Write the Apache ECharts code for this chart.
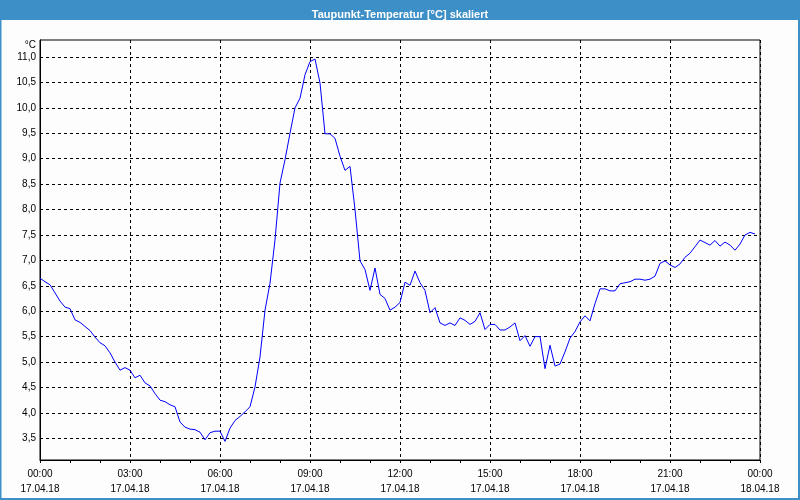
<!DOCTYPE html>
<html>
<head>
<meta charset="utf-8">
<script src="https://cdn.jsdelivr.net/npm/echarts@6/dist/echarts.min.js"></script>
<style>
html,body{margin:0;padding:0;background:#fcfdfc;}
#chart{width:800px;height:500px;}
</style>
</head>
<body>
<div id="chart"></div>
<script>
var titleText = 'Taupunkt-Temperatur [°C] skaliert';
var unitLabel = '°C';
var startHour = 0;
var stepMinutes = 10;
var xTickLabels = ['00:00\n17.04.18','03:00\n17.04.18','06:00\n17.04.18','09:00\n17.04.18','12:00\n17.04.18','15:00\n17.04.18','18:00\n17.04.18','21:00\n17.04.18','00:00\n18.04.18'];
var yTicks = [3.5,4.0,4.5,5.0,5.5,6.0,6.5,7.0,7.5,8.0,8.5,9.0,9.5,10.0,10.5,11.0];
var dewPoint = [
  6.65,6.58,6.52,6.36,6.20,6.08, 6.05,5.83,5.78,5.70,5.62,5.49,
  5.38,5.32,5.18,5.00,4.84,4.89, 4.84,4.69,4.74,4.59,4.53,4.38,
  4.25,4.22,4.16,4.12,3.82,3.72, 3.68,3.67,3.62,3.47,3.61,3.64,
  3.64,3.44,3.70,3.85,3.93,4.02, 4.12,4.51,5.10,6.02,6.55,7.40,
  8.52,8.98,9.50,10.00,10.19,10.65, 10.91,10.96,10.49,9.49,9.49,9.40,
  9.05,8.77,8.85,8.00,6.99,6.82, 6.41,6.85,6.33,6.25,6.02,6.08,
  6.17,6.57,6.51,6.79,6.56,6.41, 5.97,6.07,5.77,5.72,5.77,5.72,
  5.87,5.82,5.74,5.80,5.97,5.64, 5.74,5.74,5.63,5.63,5.69,5.77,
  5.42,5.52,5.31,5.50,5.50,4.87, 5.33,4.92,4.96,5.20,5.47,5.60,
  5.79,5.91,5.81,6.15,6.44,6.44, 6.40,6.40,6.54,6.56,6.58,6.63,
  6.63,6.61,6.63,6.69,6.94,6.99, 6.91,6.86,6.93,7.06,7.14,7.27,
  7.40,7.35,7.30,7.39,7.28,7.36, 7.30,7.20,7.32,7.50,7.55,7.52
];
var yMin = 3.073, yMax = 11.335;

var seriesData = dewPoint.map(function(v,i){ return [startHour + i*stepMinutes/60, v]; });

var chart = echarts.init(document.getElementById('chart'), null, {renderer:'canvas'});
var font = 'Liberation Sans';
var frameColor = '#3d8fc7';
chart.setOption({
  backgroundColor: '#fcfdfc',
  animation: false,
  textStyle: {fontFamily: font},
  title: {
    text: titleText, left: 'center', top: 4,
    textStyle: {color:'#ffffff', fontSize: 11, fontWeight: 'bold', fontFamily: font}
  },
  graphic: [
    {type:'rect', z:-10, shape:{x:0,y:0,width:800,height:20}, style:{fill:frameColor}},
    {type:'rect', z:-10, shape:{x:0.5,y:0,width:798.5,height:499}, style:{fill:null, stroke:frameColor, lineWidth:2}}
  ],
  grid: {left:40, top:40, width:720, height:420, show:true, borderColor:'#000', borderWidth:1, backgroundColor:'#fcfdfc'},
  xAxis: {
    type:'value', min:0, max:24, interval:3,
    axisLine:{show:true, lineStyle:{color:'#000', width:1}},
    axisTick:{show:true, length:3, lineStyle:{color:'#000'}},
    minorTick:{show:true, splitNumber:3, length:3, lineStyle:{color:'#000'}},
    splitLine:{show:true, lineStyle:{color:'#000', type:[3,3], width:1}},
    axisLabel:{
      color:'#000', fontSize:10, margin:7, lineHeight:15, fontFamily:font,
      formatter:function(v){ return xTickLabels[Math.round(v/3)]; }
    }
  },
  yAxis: {
    type:'value', min:yMin, max:yMax,
    name: unitLabel, nameLocation:'end', nameGap:-5,
    nameTextStyle:{color:'#000', fontSize:10, align:'right', verticalAlign:'middle', padding:[0,4,0,0], fontFamily:font},
    axisLine:{show:true, lineStyle:{color:'#000', width:1}},
    axisTick:{show:false, customValues: yTicks},
    splitLine:{show:true, lineStyle:{color:'#000', type:[3,3], width:1}},
    axisLabel:{
      color:'#000', fontSize:10, margin:4, fontFamily:font, customValues: yTicks,
      formatter:function(v){ return v.toFixed(1).replace('.', ','); }
    }
  },
  series: [{
    type:'line', data: seriesData, showSymbol:false, symbol:'none',
    lineStyle:{color:'#0000ff', width:1}, silent:true
  }]
});
</script>
</body>
</html>
